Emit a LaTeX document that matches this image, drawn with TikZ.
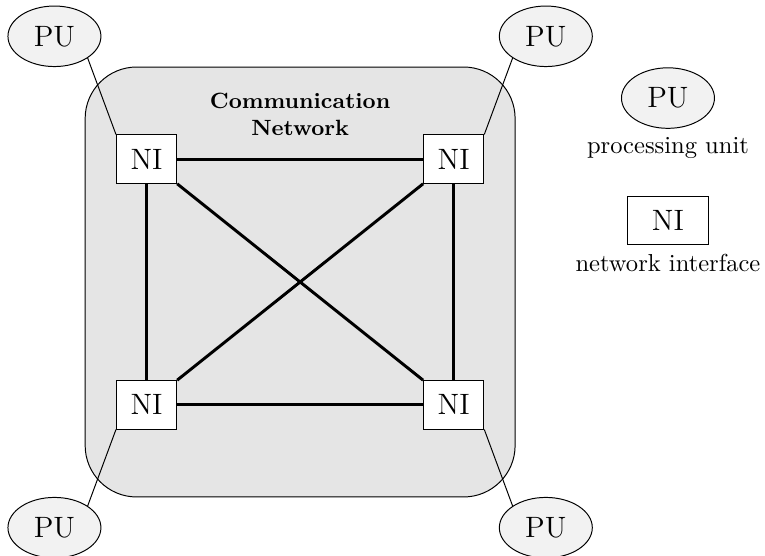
\documentclass[tikz,border=0pt]{standalone}
\usetikzlibrary{shapes.geometric, positioning}
\tikzset{
    pu/.style={ellipse, draw, fill=gray!10, font=\large, inner xsep=5pt, inner ysep=4.5pt},
    ni/.style={rectangle, draw, fill=white, font=\large, inner sep=5.75pt},
    link/.style={very thick},
}

\begin{document}
\begin{tikzpicture}

    \useasboundingbox (-4.30,-3.92) rectangle (6.66,4.04);

    % 1. Network area (grey box with rounded corners)
    \draw[fill=gray!20, rounded corners=21pt] (-3.08,-3.08) rectangle (3.08,3.08);
    \node[font=\small\bfseries, align=center] (title) at (0, 2.4) {Communication\\Network};

    % 2. Network interfaces, one per corner
    \node[ni] (ni1) at (-2.2, 1.76) {NI};
    \node[ni] (ni2) at ( 2.2, 1.76) {NI};
    \node[ni] (ni3) at (-2.2,-1.76) {NI};
    \node[ni] (ni4) at ( 2.2,-1.76) {NI};

    % 3. Processing units outside the network
    \node[pu] (pu1) at (-3.52, 3.52) {PU};
    \node[pu] (pu2) at ( 3.52, 3.52) {PU};
    \node[pu] (pu3) at (-3.52,-3.52) {PU};
    \node[pu] (pu4) at ( 3.52,-3.52) {PU};

    % ==========================================
    % Links: full mesh between the interfaces
    % ==========================================
    \draw[link] (ni1) -- (ni2);
    \draw[link] (ni3) -- (ni4);
    \draw[link] (ni1) -- (ni3);
    \draw[link] (ni2) -- (ni4);
    \draw[link] (ni1.south east) -- (ni4.north west);
    \draw[link] (ni2.south west) -- (ni3.north east);

    % Each processing unit hangs off the outer corner of its interface
    \draw (pu1.south east) -- (ni1.north west);
    \draw (pu2.south west) -- (ni2.north east);
    \draw (pu3.north east) -- (ni3.south west);
    \draw (pu4.north west) -- (ni4.south east);

    % ==========================================
    % Legend
    % ==========================================
    \node[pu] (pulegend) at (5.27, 2.635) {PU};
    \node[below=0pt of pulegend] (pucaption) {processing unit};

    \node[ni, minimum width=33pt] (nilegend) at (5.27, 0.88) {NI};
    \node[below=0pt of nilegend] (nicaption) {network interface};

\end{tikzpicture}
\end{document}
